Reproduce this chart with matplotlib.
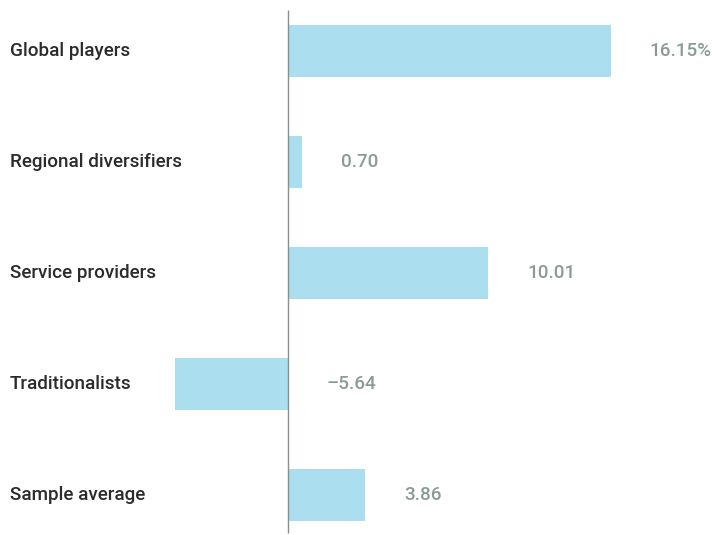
import matplotlib
matplotlib.use("Agg")
import matplotlib.pyplot as plt
from matplotlib import transforms

categories = ["Global players", "Regional diversifiers", "Service providers",
              "Traditionalists", "Sample average"]
values = [16.15, 0.70, 10.01, -5.64, 3.86]
value_labels = ["16.15%", "0.70", "10.01", "\u20135.64", "3.86"]

BAR_COLOR = "#abdfef"
LABEL_COLOR = "#8a9b96"
CAT_COLOR = "#2b2b2b"
AXIS_COLOR = "#86918d"
FONT = "Roboto"

fig = plt.figure(figsize=(7.12, 5.35), dpi=100)
ax = fig.add_axes([0, 0, 1, 1])
ax.set_xlim(-14.4, 21.2)
ax.set_ylim(4.36, -0.4595)
ax.axis("off")

ypos = list(range(len(categories)))
ax.barh(ypos, values, height=0.468, color=BAR_COLOR, zorder=1)
ax.vlines(0, -0.369, 4.342, color=AXIS_COLOR, linewidth=1.0, zorder=2)

trans = transforms.blended_transform_factory(ax.transAxes, ax.transData)
for y, cat in zip(ypos, categories):
    ax.text(10 / 712, y, cat, transform=trans, ha="left", va="center",
            fontsize=13.6, fontweight="medium", color=CAT_COLOR, family=FONT)

for y, v, lab in zip(ypos, values, value_labels):
    ax.annotate(lab, xy=(max(v, 0), y), xytext=(28, 0), textcoords="offset points",
                ha="left", va="center", fontsize=13.6, fontweight="medium",
                color=LABEL_COLOR, family=FONT)

fig.savefig("out.png", dpi=100)
